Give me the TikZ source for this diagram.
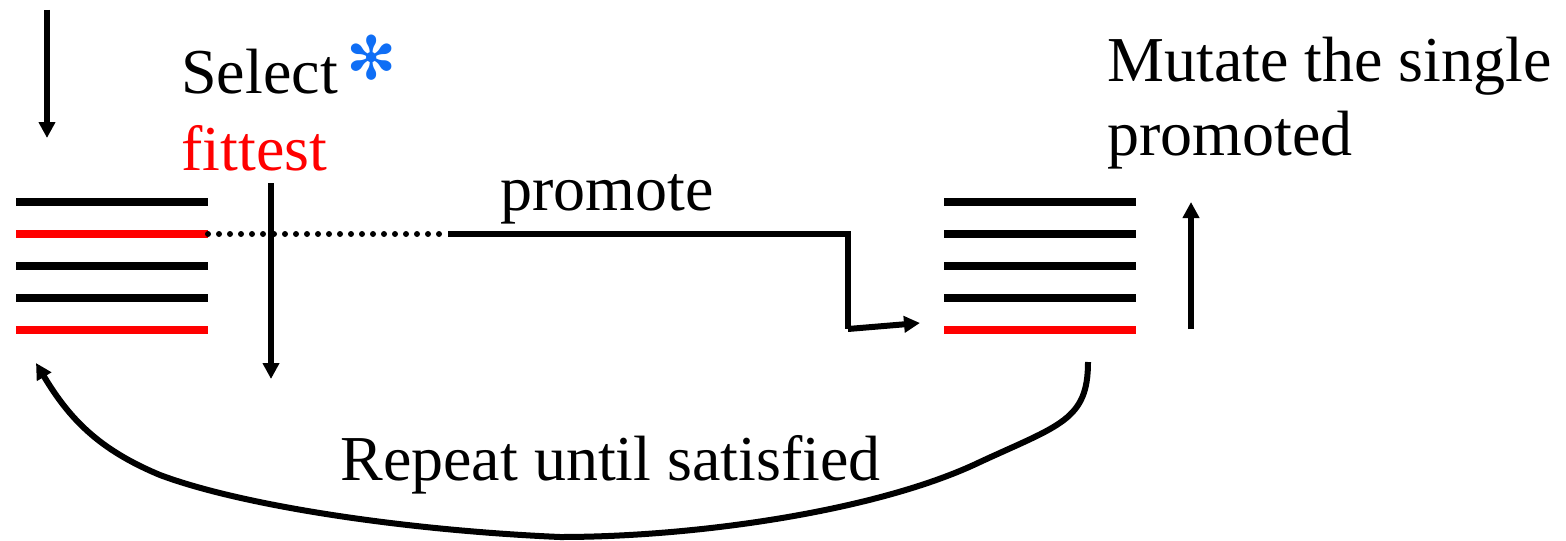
\documentclass[tikz,border=0pt]{standalone}
\usepackage{fontspec}
\setmainfont{Liberation Serif}
\newfontfamily\tnr{Liberation Serif}
\newfontfamily\symfont{DejaVu Sans}
\usetikzlibrary{arrows.meta}
\definecolor{myred}{RGB}{255,0,0}
\definecolor{myblue}{RGB}{15,110,245}
\tikzset{
  bar/.style={line width=4.2pt},
  wire/.style={line width=3pt},
  conn/.style={wire,-{Triangle[length=8pt,width=8pt]}},
  lbl/.style={inner sep=0pt,anchor=base west,font=\tnr\fontsize{32}{38}\selectfont},
}
\begin{document}
\begin{tikzpicture}[x=0.5pt,y=-0.5pt]
\useasboundingbox (0,0) rectangle (1566,540);
% left stack
\coordinate (L1a) at (16,202); \coordinate (L1b) at (208,202);
\coordinate (L2a) at (16,234); \coordinate (L2b) at (208,234);
\coordinate (L3a) at (16,266); \coordinate (L3b) at (208,266);
\coordinate (L4a) at (16,298); \coordinate (L4b) at (208,298);
\coordinate (L5a) at (16,330); \coordinate (L5b) at (208,330);
\draw[bar,black] (L1a) -- (L1b);
\draw[bar,myred] (L2a) -- (L2b);
\draw[bar,black] (L3a) -- (L3b);
\draw[bar,black] (L4a) -- (L4b);
\draw[bar,myred] (L5a) -- (L5b);
% right stack
\coordinate (R1a) at (944,202); \coordinate (R1b) at (1136,202);
\coordinate (R2a) at (944,234); \coordinate (R2b) at (1136,234);
\coordinate (R3a) at (944,266); \coordinate (R3b) at (1136,266);
\coordinate (R4a) at (944,298); \coordinate (R4b) at (1136,298);
\coordinate (R5a) at (944,330); \coordinate (R5b) at (1136,330);
\draw[bar,black] (R1a) -- (R1b);
\draw[bar,black] (R2a) -- (R2b);
\draw[bar,black] (R3a) -- (R3b);
\draw[bar,black] (R4a) -- (R4b);
\draw[bar,myred] (R5a) -- (R5b);
% texts
\node[lbl] (select) at (181,93) {Select};
\node[inner sep=0pt,text=myblue,font=\symfont\fontsize{30}{34}\selectfont] (star) at (372,58) {✻};
\node[lbl,text=myred] (fittest) at (181,170) {fittest};
\node[lbl] (promote) at (500,210) {promote};
\node[lbl] (mutate) at (1107,82) {Mutate the single};
\node[lbl] (promoted) at (1107,155) {promoted};
\node[lbl] (repeat) at (340,480) {Repeat until satisfied};
% arrows
\coordinate (inTop) at (47,10); \coordinate (inBot) at (47,138);
\draw[conn] (inTop) -- (inBot);
\coordinate (selTop) at (271,183); \coordinate (selBot) at (271,379);
\draw[conn] (selTop) -- (selBot);
\coordinate (mutBot) at (1191,329); \coordinate (mutTop) at (1191,202);
\draw[conn] (mutBot) -- (mutTop);
% promote connector
\coordinate (dotEnd) at (448,234);
\coordinate (corner1) at (848,234);
\coordinate (corner2) at (848,329);
\coordinate (promTip) at (920,323);
\draw[line width=3pt,line cap=round,dash pattern=on 0pt off 5.5pt] (L2b) -- (dotEnd);
\draw[wire] (dotEnd) -- (corner1) -- (corner2);
\draw[conn] (corner2) -- (promTip);
% repeat loop
\coordinate (loopStart) at (1088,362);
\coordinate (loopBottom) at (560,537);
\coordinate (loopTip) at (36,363);
\draw[conn] (loopStart) .. controls (1088,420) and (1060,425) .. (980,462)
  .. controls (880,510) and (700,537) .. (loopBottom)
  .. controls (400,530) and (240,505) .. (160,475)
  .. controls (100,450) and (70,420) .. (loopTip);
\end{tikzpicture}
\end{document}
